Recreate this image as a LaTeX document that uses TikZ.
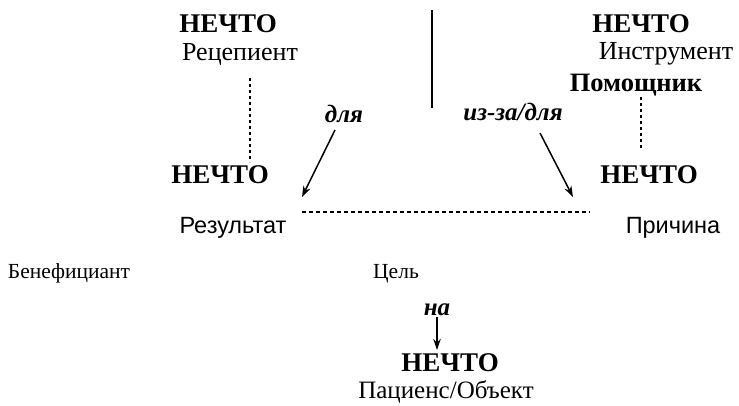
\documentclass[tikz,border=0pt]{standalone}
\usepackage{fontspec}
\setmainfont{Liberation Serif}
\newfontfamily\arialf{Liberation Sans}
\usetikzlibrary{arrows.meta}
\tikzset{
  big/.style={font=\fontsize{27}{30}\selectfont\bfseries, inner sep=0pt, anchor=base},
  role/.style={font=\fontsize{26}{29}\selectfont, inner sep=0pt, anchor=base},
  brole/.style={font=\fontsize{26.5}{29}\selectfont\bfseries, inner sep=0pt, anchor=base},
  srole/.style={font=\fontsize{23.5}{26}\selectfont\arialf, inner sep=0pt, anchor=base},
  small/.style={font=\fontsize{21.5}{24}\selectfont, inner sep=0pt, anchor=base},
  prep/.style={font=\fontsize{25}{28}\selectfont\bfseries\itshape, inner sep=0pt, anchor=base},
  arr/.style={-{Stealth[length=11pt,width=7.5pt]}, line width=1.5pt},
  dots/.style={dash pattern=on 3pt off 3pt, line width=1.3pt},
}
\begin{document}
\begin{tikzpicture}[x=1pt,y=-1pt]
\useasboundingbox (0,0) rectangle (739,405);
% top left
\node[big] (n1) at (228,32) {НЕЧТО};
\node[role] (rec) at (240,60) {Рецепиент};
\coordinate (d1a) at (250,78);
\coordinate (d1b) at (250,162);
\draw[dots] (d1a) -- (d1b);
% separator
\coordinate (sa) at (432,10);
\coordinate (sb) at (432,108);
\draw[line width=2.8pt] (sa) -- (sb);
% left middle
\node[big] (n2) at (220,183) {НЕЧТО};
\node[srole] (res) at (233,233) {Результат};
\node[prep] (dlya) at (344,122) {для};
\coordinate (a1s) at (335,130);
\coordinate (a1e) at (302,197);
\draw[arr] (a1s) -- (a1e);
% dashed horizontal
\coordinate (h1) at (302,212);
\coordinate (h2) at (590,212);
\draw[dash pattern=on 4pt off 3pt, line width=1.3pt] (h1) -- (h2);
% right
\node[big] (n3) at (641,32) {НЕЧТО};
\node[role] (ins) at (666,59) {Инструмент};
\node[brole] (pom) at (636,91) {Помощник};
\coordinate (d2a) at (641,97);
\coordinate (d2b) at (641,148);
\draw[dots] (d2a) -- (d2b);
\node[prep] (izza) at (513,120) {из-за/для};
\coordinate (a2s) at (540,133);
\coordinate (a2e) at (573,197);
\draw[arr] (a2s) -- (a2e);
\node[big] (n4) at (649,183) {НЕЧТО};
\node[srole] (pri) at (673,233) {Причина};
% lower
\node[small] (ben) at (69,278) {Бенефициант};
\node[small] (cel) at (396,278) {Цель};
\node[prep] (na) at (437,315) {на};
\coordinate (a3s) at (437,317);
\coordinate (a3e) at (437,350);
\draw[arr] (a3s) -- (a3e);
\node[big] (n5) at (450,371) {НЕЧТО};
\node[role, font=\fontsize{25}{28}\selectfont] (pac) at (446,398) {Пациенс/Объект};
\end{tikzpicture}
\end{document}
